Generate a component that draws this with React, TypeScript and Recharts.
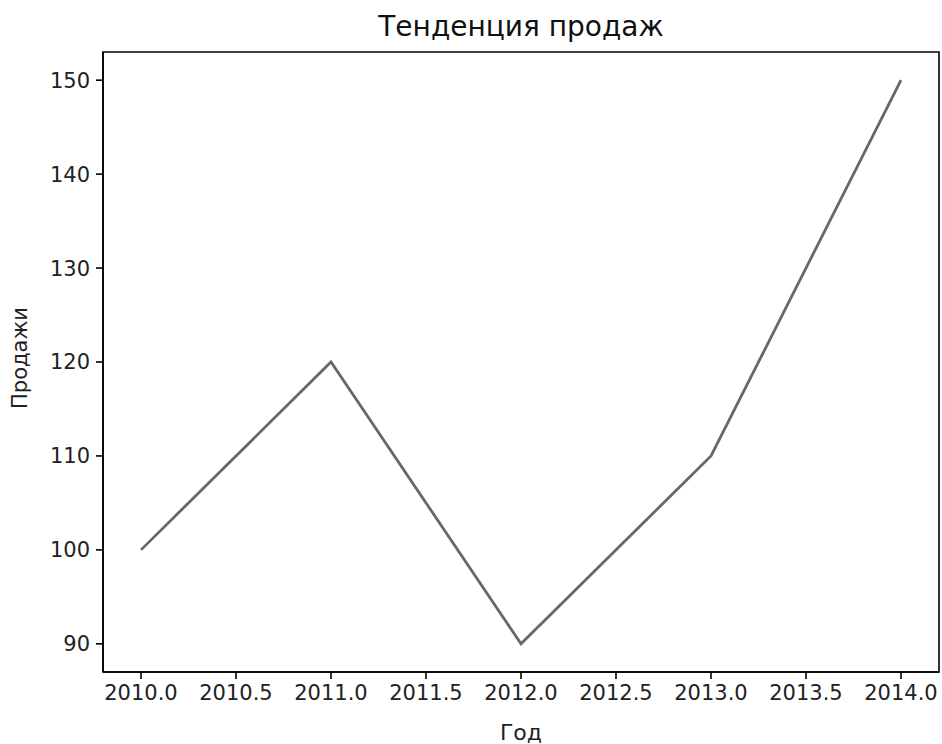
import { LineChart, Line, XAxis, YAxis, ReferenceArea } from "recharts";

const years = [2010, 2011, 2012, 2013, 2014];
const sales = [100, 120, 90, 110, 150];
const xTicks = [2010, 2010.5, 2011, 2011.5, 2012, 2012.5, 2013, 2013.5, 2014];
const yTicks = [90, 100, 110, 120, 130, 140, 150];

const data = years.map((year, i) => ({ year, sales: sales[i] }));

const font = "'DejaVu Sans', sans-serif";
const tickStyle = { fill: "#222", fontSize: 21, fontFamily: font };

export default function App() {
  return (
    <div style={{ position: "absolute", left: 0, top: 0, width: 942, height: 744, background: "#fff" }}>
      <LineChart width={942} height={744} data={data} margin={{ top: 52, right: 3, bottom: 0, left: 0 }}>
        <XAxis
          dataKey="year"
          type="number"
          domain={[2009.8, 2014.2]}
          ticks={xTicks}
          tickFormatter={(v: number) => v.toFixed(1)}
          height={72}
          stroke="#000"
          strokeWidth={1.6}
          tickSize={7}
          tickMargin={6}
          tick={tickStyle}
          interval={0}
          allowDataOverflow
        />
        <YAxis
          type="number"
          domain={[87, 153]}
          ticks={yTicks}
          width={103}
          stroke="#000"
          strokeWidth={1.6}
          tickSize={7}
          tickMargin={6}
          tick={tickStyle}
          interval={0}
          allowDataOverflow
        />
        <ReferenceArea x1={2009.8} x2={2014.2} y1={87} y2={153} fill="none" stroke="#000" strokeWidth={1.6} ifOverflow="visible" />
        <Line type="linear" dataKey="sales" stroke="#686868" strokeWidth={2.8} dot={false} isAnimationActive={false} />
      </LineChart>
      <div style={{ position: "absolute", left: 0, width: 1042, top: 9, textAlign: "center", fontFamily: font, fontSize: 28, color: "#111", lineHeight: "36px" }}>
        Тенденция продаж
      </div>
      <div style={{ position: "absolute", left: 0, width: 1042, top: 718, textAlign: "center", fontFamily: font, fontSize: 22, color: "#222", lineHeight: "30px" }}>
        Год
      </div>
      <div style={{ position: "absolute", left: 20, top: 358, width: 0, height: 0 }}>
        <div style={{ position: "absolute", left: -100, top: -14, width: 200, textAlign: "center", transform: "rotate(-90deg)", fontFamily: font, fontSize: 21, color: "#222", lineHeight: "28px" }}>
          Продажи
        </div>
      </div>
    </div>
  );
}
